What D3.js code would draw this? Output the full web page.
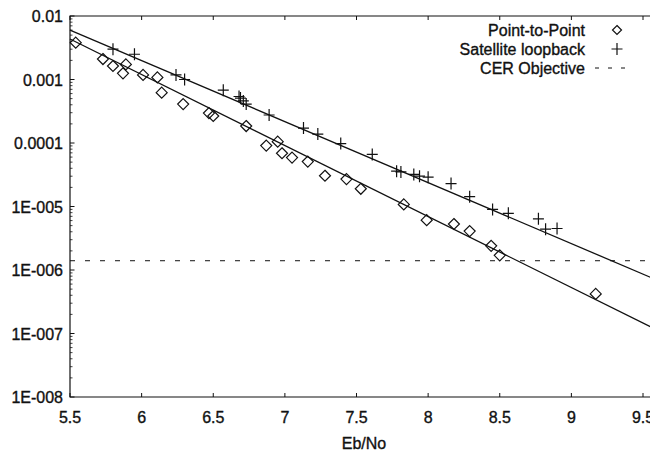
<!DOCTYPE html>
<html>
<head>
<meta charset="utf-8">
<script src="https://cdn.jsdelivr.net/npm/d3@7"></script>
<style>
    body { margin: 0; background: #fff; }
    text { font-family: "Liberation Sans", Arial, sans-serif; fill: #111; stroke: #111; stroke-width: 0.35px; }
</style>
</head>
<body>
<div id="chart"></div>
<script>
// Point-to-Point measurements (Eb/No, bit error rate)
const p2pX = [5.54, 5.73, 5.80, 5.87, 5.89, 6.01, 6.11, 6.14, 6.29, 6.47, 6.50, 6.73,
    6.87, 6.95, 6.98, 7.05, 7.16, 7.28, 7.43, 7.53, 7.83, 7.99, 8.18, 8.29, 8.44, 8.50, 9.17];
const p2pY = [3.8e-3, 2.1e-3, 1.63e-3, 1.25e-3, 1.73e-3, 1.18e-3, 1.08e-3, 6.2e-4, 4.1e-4, 2.96e-4,
    2.66e-4, 1.85e-4, 9.1e-5, 1.05e-4, 6.9e-5, 5.9e-5, 5.1e-5, 3.05e-5, 2.7e-5, 1.9e-5, 1.08e-5,
    6.1e-6, 5.3e-6, 4.1e-6, 2.4e-6, 1.7e-6, 4.2e-7];

// Satellite loopback measurements
const satX = [5.80, 5.95, 6.24, 6.30, 6.57, 6.68, 6.69, 6.71, 6.73, 6.89, 7.13, 7.23, 7.39,
    7.61, 7.78, 7.81, 7.90, 7.94, 8.00, 8.16, 8.29, 8.45, 8.56, 8.77, 8.82, 8.90];
const satY = [3.0e-3, 2.5e-3, 1.18e-3, 1.0e-3, 6.8e-4, 5.4e-4, 5.1e-4, 4.6e-4, 4.1e-4, 2.76e-4,
    1.72e-4, 1.38e-4, 9.8e-5, 6.6e-5, 3.6e-5, 3.5e-5, 3.2e-5, 3.0e-5, 2.9e-5, 2.3e-5, 1.43e-5,
    9.0e-6, 7.8e-6, 6.4e-6, 4.4e-6, 4.5e-6];

// fitted lines (end points) and the objective level
const fitX = [5.5, 9.6];
const p2pFit = [4.34e-3, 1.13e-7];
const satFit = [6.0e-3, 6.9e-7];
const cerObjective = 1.4e-6;

const xTicks = [5.5, 6, 6.5, 7, 7.5, 8, 8.5, 9, 9.5];
const yTicks = [1e-2, 1e-3, 1e-4, 1e-5, 1e-6, 1e-7, 1e-8];
const yTickLabels = ["0.01", "0.001", "0.0001", "1E-005", "1E-006", "1E-007", "1E-008"];
const legendLabels = ["Point-to-Point", "Satellite loopback", "CER Objective"];

const width = 650, height = 455;
const plotLeft = 70, plotTop = 16, plotBottom = 397;

const svg = d3.select("#chart").append("svg")
    .attr("width", width)
    .attr("height", height);

const x = d3.scaleLinear().domain([5.5, 9.5]).range([plotLeft, 643]);
const y = d3.scaleLog().domain([1e-8, 1e-2]).range([plotBottom, plotTop]);
const xMax = 9.6;

const ink = "#111";

// frame
svg.append("path")
    .attr("d", `M${x(xMax)},${plotTop}H${plotLeft}V${plotBottom}H${x(xMax)}`)
    .attr("fill", "none").attr("stroke", ink).attr("stroke-width", 1.2);

// x ticks, bottom and top, pointing inwards
xTicks.forEach(t => {
    svg.append("line").attr("x1", x(t)).attr("x2", x(t)).attr("y1", plotBottom).attr("y2", plotBottom - 4)
        .attr("stroke", ink);
    svg.append("line").attr("x1", x(t)).attr("x2", x(t)).attr("y1", plotTop).attr("y2", plotTop + 4)
        .attr("stroke", ink);
});
svg.selectAll(".xlab").data(xTicks).enter().append("text")
    .attr("x", d => x(d)).attr("y", 423)
    .attr("text-anchor", "middle")
    .style("font-size", "16px")
    .text(d => d);

// y ticks: majors and log minors
const minors = [];
for (let e = -8; e < -2; e++) for (let m = 2; m <= 9; m++) minors.push(m * Math.pow(10, e));
svg.selectAll(".ymin").data(minors).enter().append("line")
    .attr("x1", plotLeft).attr("x2", plotLeft + 2.5)
    .attr("y1", d => y(d)).attr("y2", d => y(d))
    .attr("stroke", ink).attr("stroke-width", 0.8);
svg.selectAll(".ymaj").data(yTicks).enter().append("line")
    .attr("x1", plotLeft).attr("x2", plotLeft + 4.5)
    .attr("y1", d => y(d)).attr("y2", d => y(d))
    .attr("stroke", ink);
svg.selectAll(".ylab").data(yTicks).enter().append("text")
    .attr("x", 63).attr("y", d => y(d) + 6)
    .attr("text-anchor", "end")
    .style("font-size", "16px")
    .text((d, i) => yTickLabels[i]);

svg.append("text")
    .attr("x", 364).attr("y", 449)
    .attr("text-anchor", "middle")
    .style("font-size", "16px")
    .text("Eb/No");

// objective and fitted lines
svg.append("line")
    .attr("x1", plotLeft).attr("x2", x(xMax))
    .attr("y1", y(cerObjective)).attr("y2", y(cerObjective))
    .attr("stroke", ink).attr("stroke-width", 1).attr("stroke-dasharray", "5,10");

const line = d3.line().x(d => x(d[0])).y(d => y(d[1]));
[p2pFit, satFit].forEach(f => {
    svg.append("path")
        .datum(fitX.map((v, i) => [v, f[i]]))
        .attr("d", line)
        .attr("fill", "none").attr("stroke", ink).attr("stroke-width", 1.3);
});

// markers
const diamond = "M0,-5.5L5.5,0L0,5.5L-5.5,0Z";
const cross = "M-5.5,0H5.5M0,-6V6";

svg.selectAll(".p2p").data(p2pX).enter().append("path")
    .attr("transform", (d, i) => `translate(${x(d)},${y(p2pY[i])})`)
    .attr("d", diamond)
    .attr("fill", "none").attr("stroke", ink).attr("stroke-width", 1.2);

svg.selectAll(".sat").data(satX).enter().append("path")
    .attr("transform", (d, i) => `translate(${x(d)},${y(satY[i])})`)
    .attr("d", cross)
    .attr("fill", "none").attr("stroke", ink).attr("stroke-width", 1.2);

// legend
const legend = svg.append("g");
legendLabels.forEach((lab, i) => {
    const ly = 30 + i * 19;
    legend.append("text")
        .attr("x", 585).attr("y", ly + 6)
        .attr("text-anchor", "end")
        .style("font-size", "16px")
        .text(lab);
    if (i === 0) {
        legend.append("path").attr("transform", `translate(617,${ly})`)
            .attr("d", "M0,-4.5L4.5,0L0,4.5L-4.5,0Z")
            .attr("fill", "none").attr("stroke", ink).attr("stroke-width", 1.2);
    } else if (i === 1) {
        legend.append("path").attr("transform", `translate(617,${ly})`)
            .attr("d", cross)
            .attr("fill", "none").attr("stroke", ink).attr("stroke-width", 1.2);
    } else {
        legend.append("line")
            .attr("x1", 595).attr("x2", 632).attr("y1", ly).attr("y2", ly)
            .attr("stroke", ink).attr("stroke-dasharray", "4,9");
    }
});
</script>
</body>
</html>
